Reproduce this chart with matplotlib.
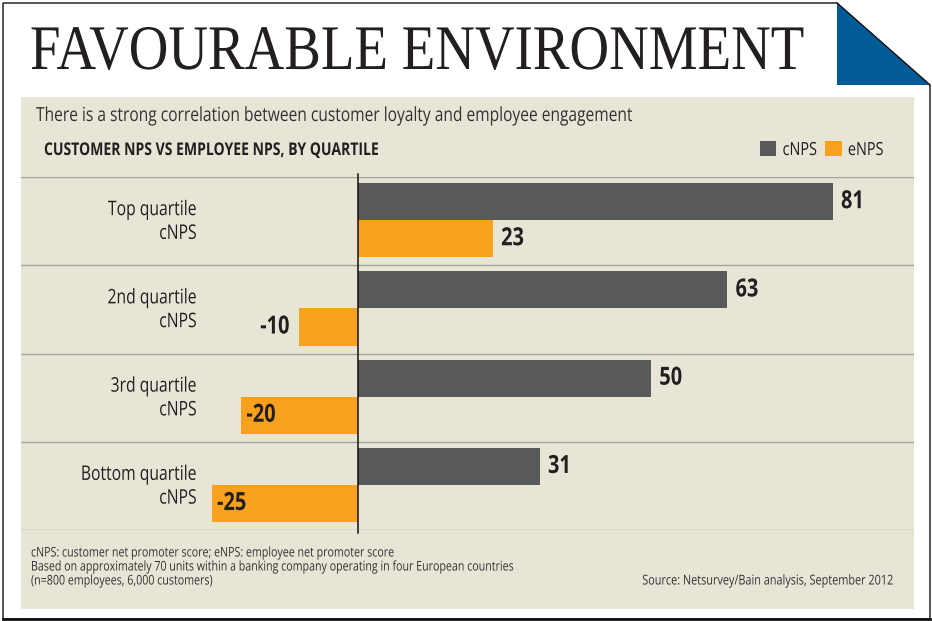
import matplotlib
matplotlib.use("Agg")
import matplotlib.pyplot as plt
import matplotlib.patheffects as pe
from matplotlib.patches import Rectangle, Polygon
from matplotlib.transforms import Affine2D, blended_transform_factory
import numpy as np

# data
quartiles = ["Top quartile\ncNPS", "2nd quartile\ncNPS", "3rd quartile\ncNPS", "Bottom quartile\ncNPS"]
cnps = [81, 63, 50, 31]
enps = [23, -10, -20, -25]
series_names = ["cNPS", "eNPS"]

title = "FAVOURABLE ENVIRONMENT"
subtitle = "There is a strong correlation between customer loyalty and employee engagement"
heading = "CUSTOMER NPS VS EMPLOYEE NPS, BY QUARTILE"
notes = [
	"cNPS: customer net promoter score; eNPS: employee net promoter score",
	"Based on approximately 70 units within a banking company operating in four European countries",
	"(n=800 employees, 6,000 customers)",
]
source = "Source: Netsurvey/Bain analysis, September 2012"

GREY = "#58595b"
ORANGE = "#f7a11f"
BEIGE = "#e8e5d7"
BLUE = "#005b96"
INK = "#231f20"
SANS = ["Open Sans", "DejaVu Sans"]
SERIF = ["Liberation Serif", "DejaVu Serif"]

W, H = 932, 621
INSIDE_BELOW = -15  # long negative bars get their label inside, clear of the row names


class Squeeze(pe.AbstractPathEffect):
	# horizontally condenses the glyph outlines, the reference uses condensed type
	def __init__(self, sx, anchor="left"):
		super().__init__()
		self.sx = sx
		self.anchor = anchor

	def draw_path(self, renderer, gc, tpath, affine, rgbFace=None):
		ext = tpath.get_extents(affine)
		if self.anchor == "right":
			x0 = ext.x1
		elif self.anchor == "center":
			x0 = (ext.x0 + ext.x1) / 2
		else:
			x0 = affine.get_matrix()[0, 2]
		squeeze = Affine2D().translate(-x0, 0).scale(self.sx, 1).translate(x0, 0)
		renderer.draw_path(gc, tpath, affine + squeeze, rgbFace)


def squeezed(sx, ha):
	return [Squeeze(sx, ha)]


fig = plt.figure(figsize=(W / 100, H / 100), dpi=100)
fig.patch.set_facecolor("white")

# page layer in pixel coordinates
bg = fig.add_axes([0, 0, 1, 1])
bg.set_xlim(0, W)
bg.set_ylim(H, 0)
bg.axis("off")

frame = Polygon([(3, 3), (837, 3), (930, 85), (930, 619), (3, 619)], closed=True,
				facecolor="white", edgecolor="#111111", lw=1.0)
bg.add_patch(frame)
bg.plot([3, 930], [619, 619], color="#111111", lw=2)
bg.add_patch(Polygon([(837, 3), (837, 85), (930, 85)], closed=True, facecolor=BLUE, edgecolor="none"))
bg.plot([837, 930], [3, 85], color="#111111", lw=0.8)
bg.add_patch(Rectangle((21, 97), 893, 512, facecolor=BEIGE, edgecolor="none"))

bg.text(30, 69, title, fontsize=45.7, family=SERIF, color=INK, va="baseline", ha="left",
		path_effects=squeezed(0.865, "left"))
bg.text(36, 116, subtitle, fontsize=14, family=SANS, color="#333333", va="center", ha="left",
		path_effects=squeezed(0.8, "left"))
bg.text(44, 150, heading, fontsize=12.6, family=SANS, fontweight="bold", color=INK, va="center",
		ha="left", path_effects=squeezed(0.8, "left"))

for i, line in enumerate(notes):
	bg.text(31, 553 + i * 14, line, fontsize=9.6, family=SANS, color="#333333", va="center",
			ha="left", path_effects=squeezed(0.8, "left"))
bg.text(894, 581, source, fontsize=9.8, family=SANS, color="#333333", va="center", ha="right",
		path_effects=squeezed(0.8, "right"))

# chart area: spans the beige panel between the outer gridlines
left, right, top, bottom = 21, 914, 177, 530
ax = fig.add_axes([left / W, 1 - bottom / H, (right - left) / W, (bottom - top) / H])
ax.patch.set_visible(False)
px_per_unit = 5.86
ax.set_xlim(-(358 - left) / px_per_unit, (right - 358) / px_per_unit)
ax.set_ylim(len(quartiles) - 0.5, -0.5)
ax.axis("off")

y = np.arange(len(quartiles))
bar_h = 0.42
ax.barh(y - bar_h / 2 - 0.01, cnps, height=bar_h, color=GREY, label=series_names[0], zorder=2)
ax.barh(y + bar_h / 2 - 0.01, enps, height=bar_h, color=ORANGE, label=series_names[1], zorder=2)

for g in np.arange(-0.5, len(quartiles), 1.0):
	ax.axhline(g, color="#a5a39c", lw=1.0, zorder=1)
ax.plot([0, 0], [-0.53, len(quartiles) - 0.47], color="#111111", lw=1.1, zorder=3, clip_on=False)

for vals, off in ((cnps, -bar_h / 2 - 0.01), (enps, bar_h / 2 - 0.01)):
	for yi, v in zip(y, vals):
		if v >= 0:
			ha, dx = "left", 6
		elif v <= INSIDE_BELOW:
			ha, dx = "left", 4
		else:
			ha, dx = "right", -7
		ax.annotate(str(v), (v, yi + off), xytext=(dx, 0), textcoords="offset points",
					ha=ha, va="center", fontsize=18, fontweight="bold", family=SANS, color=INK,
					path_effects=squeezed(0.8, ha), zorder=4)

lab_tf = blended_transform_factory(bg.transData, ax.transData)
for yi, lab in zip(y, quartiles):
	ax.text(197, yi + 0.01, lab, transform=lab_tf, ha="right", va="center", multialignment="right",
			fontsize=14.5, family=SANS, color=INK, linespacing=1.25, path_effects=squeezed(0.78, "right"))

leg = ax.legend(loc="center left", bbox_to_anchor=(760, 150), bbox_transform=bg.transData,
				ncol=2, frameon=False, handlelength=0.9, handleheight=0.9, handletextpad=0.35,
				columnspacing=0.0, borderpad=0, borderaxespad=0, prop={"family": SANS, "size": 13})
for t in leg.get_texts():
	t.set_color(INK)
	t.set_path_effects(squeezed(0.8, "left"))

fig.savefig("out.png", dpi=100, facecolor="white")
